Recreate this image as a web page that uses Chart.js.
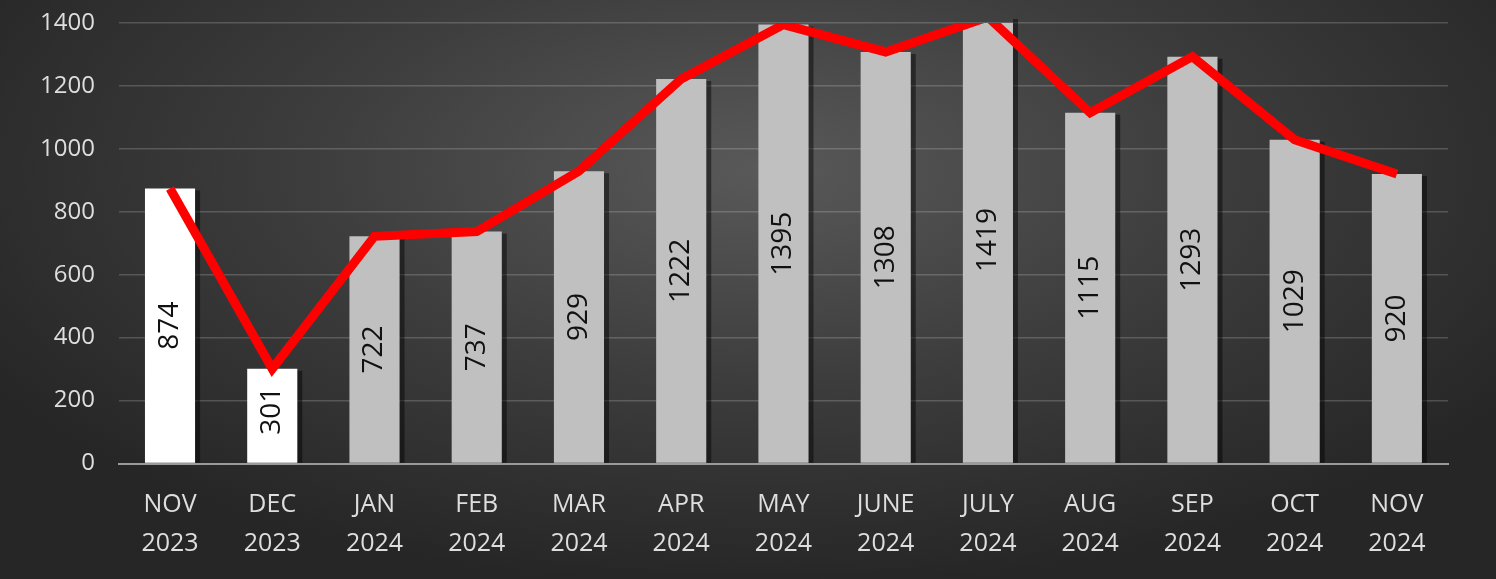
<!DOCTYPE html>
<html>
<head>
<meta charset="utf-8">
<script src="https://cdn.jsdelivr.net/npm/chart.js@4"></script>
<style>
  html, body { margin: 0; padding: 0; }
  body {
    width: 1496px; height: 579px; overflow: hidden;
    background: radial-gradient(ellipse 900px 420px at 760px 170px, #595959 0%, #3d3d3d 50%, #262626 100%);
  }
  #wrap { width: 1496px; height: 579px; position: relative; }
</style>
</head>
<body>
<div id="wrap"><canvas id="bar-chart" width="1496" height="579"></canvas></div>
<script>
const months = [["NOV", "2023"], ["DEC", "2023"], ["JAN", "2024"], ["FEB", "2024"], ["MAR", "2024"],
  ["APR", "2024"], ["MAY", "2024"], ["JUNE", "2024"], ["JULY", "2024"], ["AUG", "2024"],
  ["SEP", "2024"], ["OCT", "2024"], ["NOV", "2024"]];
const values = [874, 301, 722, 737, 929, 1222, 1395, 1308, 1419, 1115, 1293, 1029, 920];
const yTicks = [0, 200, 400, 600, 800, 1000, 1200, 1400];

let barColors = [];
for (i = 0; i < values.length; i++) {
    barColors.push(i < 2 ? "#ffffff" : "#c0c0c0");
}

// vertical value labels inside the bars
const barLabels = {
    id: "barLabels",
    afterDatasetsDraw(chart) {
        const ctx = chart.ctx;
        const meta = chart.getDatasetMeta(1);
        ctx.save();
        ctx.fillStyle = "#111111";
        ctx.font = "28px 'Open Sans', sans-serif";
        ctx.textAlign = "center";
        ctx.textBaseline = "middle";
        meta.data.forEach((bar, i) => {
            let mid = (bar.y + bar.base) / 2;
            // short bars: keep the label clear of the line at the top
            if (bar.base - bar.y < 200) mid = bar.base - 52;
            ctx.save();
            ctx.translate(bar.x, mid);
            ctx.rotate(-Math.PI / 2);
            ctx.fillText(String(values[i]), 0, 0);
            ctx.restore();
        });
        ctx.restore();
    }
};

// dark shade on the right side of each bar
const barShade = {
    id: "barShade",
    beforeDatasetsDraw(chart) {
        const ctx = chart.ctx;
        const meta = chart.getDatasetMeta(1);
        ctx.save();
        ctx.fillStyle = "rgba(0,0,0,0.45)";
        meta.data.forEach((bar) => {
            ctx.fillRect(bar.x + bar.width / 2, bar.y + 2, 5, bar.base - bar.y - 2);
        });
        ctx.restore();
    }
};

new Chart(document.getElementById("bar-chart"), {
    data: {
        labels: months,
        datasets: [
            {
                type: "line",
                data: values,
                borderColor: "#ff0000",
                borderWidth: 9,
                pointRadius: 0,
                tension: 0,
                order: 0
            },
            {
                type: "bar",
                data: values,
                backgroundColor: barColors,
                categoryPercentage: 1,
                barPercentage: 0.49,
                order: 1
            }
        ]
    },
    options: {
        responsive: false,
        animation: false,
        layout: { padding: { top: 23, right: 48, left: 16, bottom: 2 } },
        plugins: { legend: { display: false }, tooltip: { enabled: false } },
        scales: {
            x: {
                grid: { display: false },
                border: { color: "#9a9a9a", width: 2 },
                ticks: {
                    color: "#dedede",
                    font: { family: "'Open Sans', sans-serif", size: 25, lineHeight: 1.55 },
                    padding: 14,
                    maxRotation: 0
                }
            },
            y: {
                min: 0,
                max: 1400,
                afterBuildTicks(axis) {
                    axis.ticks = yTicks.map(v => ({ value: v }));
                },
                afterFit(axis) {
                    axis.paddingTop = 0;
                },
                grid: { color: "rgba(255,255,255,0.18)", lineWidth: 1.5, drawTicks: false },
                border: { display: false },
                ticks: {
                    color: "#dedede",
                    font: { family: "'Open Sans', sans-serif", size: 24 },
                    padding: 24,
                    callback: (v) => String(v)
                }
            }
        }
    },
    plugins: [barShade, barLabels]
});
</script>
</body>
</html>
